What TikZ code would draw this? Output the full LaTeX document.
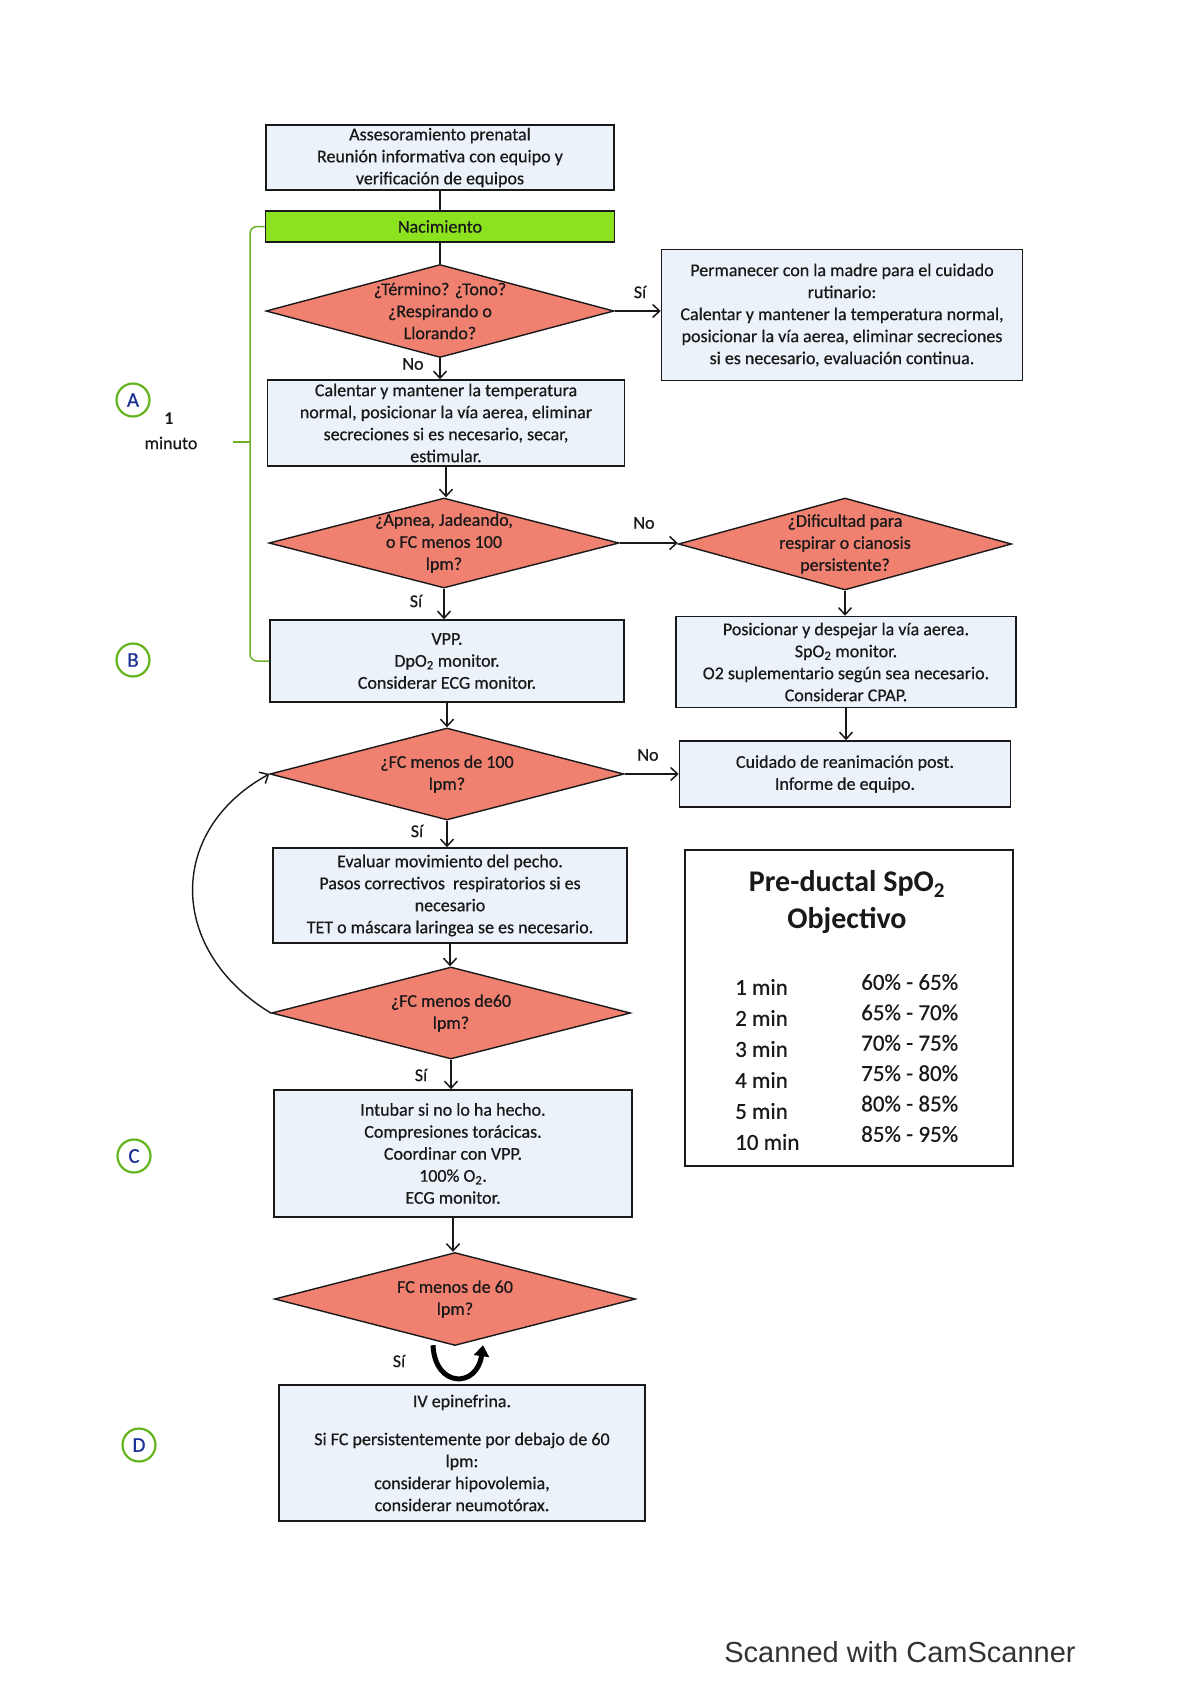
\documentclass[tikz,border=0pt]{standalone}
\usepackage{fontspec}
\setmainfont{Carlito}
\newfontfamily\bodyfont{Carlito}[FakeBold=0.6]
\newfontfamily\scanfont{Liberation Sans}
\usetikzlibrary{shapes.geometric,arrows.meta,calc}
\definecolor{boxfill}{RGB}{236,242,249}
\definecolor{diafill}{RGB}{240,128,112}
\definecolor{nacgreen}{RGB}{140,226,30}
\definecolor{brgreen}{RGB}{112,176,40}
\definecolor{circgreen}{RGB}{100,180,30}
\definecolor{letblue}{RGB}{30,50,150}
\definecolor{ink}{RGB}{25,25,25}
\begin{document}
\begin{tikzpicture}[x=1pt,y=-1pt,
 every node/.style={font=\bodyfont\fontsize{18}{22}\selectfont, text=ink},
 box/.style={draw=ink, line width=1.6pt, fill=boxfill, rectangle, inner sep=0pt, align=center},
 dia/.style={draw=ink, line width=1.4pt, fill=diafill, diamond, inner sep=0pt},
 txt/.style={align=center, inner sep=0pt},
 lbl/.style={inner sep=0pt},
 arr/.style={line width=1.5pt, draw=ink, -{Straight Barb[length=7pt,width=13pt,line width=1.5pt]}},
 ln/.style={line width=1.5pt, draw=ink},
 circ/.style={draw=circgreen, line width=2.2pt, circle, minimum size=33pt, inner sep=0pt, text=letblue, font=\bodyfont\fontsize{21}{24}\selectfont},
 bracket/.style={draw=brgreen, line width=1.5pt},
]
\fill[white] (0,0) rectangle (1200,1698);
\useasboundingbox (0,0) rectangle (1200,1698);

% main column
\node[box, minimum width=348pt, minimum height=65pt] (b1) at (440,157.5) {Assesoramiento prenatal\\Reunión informativa con equipo y\\verificación de equipos};
\node[box, fill=nacgreen, minimum width=349pt, minimum height=31pt] (nac) at (440,226.5) {Nacimiento};
\node[dia, minimum width=348pt, minimum height=93pt] (d1) at (440,311) {};
\node[txt] (d1t) at (d1) {¿Término? ¿Tono?\\¿Respirando o\\Llorando?};
\node[box, minimum width=361pt, minimum height=131pt] (r1) at (842,315) {Permanecer con la madre para el cuidado\\rutinario:\\Calentar y mantener la temperatura normal,\\posicionar la vía aerea, eliminar secreciones\\si es necesario, evaluación continua.};
\node[box, minimum width=357pt, minimum height=86pt] (b2) at (446,423) {Calentar y mantener la temperatura\\normal, posicionar la vía aerea, eliminar\\secreciones si es necesario, secar,\\estimular.};
\node[dia, minimum width=350pt, minimum height=90pt] (d2) at (444,543) {};
\node[txt] (d2t) at (d2) {¿Apnea, Jadeando,\\o FC menos 100\\lpm?};
\node[dia, minimum width=333pt, minimum height=92pt] (d3) at (845,544) {};
\node[txt] (d3t) at (d3) {¿Dificultad para\\respirar o cianosis\\persistente?};
\node[box, minimum width=340pt, minimum height=91pt] (r2) at (846,662) {Posicionar y despejar la vía aerea.\\SpO\textsubscript{2} monitor.\\O2 suplementario según sea necesario.\\Considerar CPAP.};
\node[box, minimum width=331pt, minimum height=66pt] (r3) at (845,774) {Cuidado de reanimación post.\\Informe de equipo.};
\node[box, minimum width=354pt, minimum height=82pt] (bB) at (447,661) {VPP.\\DpO\textsubscript{2} monitor.\\Considerar ECG monitor.};
\node[dia, minimum width=354pt, minimum height=92pt] (d4) at (447,774) {};
\node[txt] (d4t) at (d4) {¿FC menos de 100\\lpm?};
\node[box, minimum width=354pt, minimum height=95pt] (ev) at (450,895.5) {Evaluar movimiento del pecho.\\Pasos correctivos\ \ respiratorios si es\\necesario\\TET o máscara laringea se es necesario.};
\node[dia, minimum width=359pt, minimum height=92pt] (d5) at (451,1013) {};
\node[txt] (d5t) at (d5) {¿FC menos de60\\lpm?};
\node[box, minimum width=358pt, minimum height=127pt] (bC) at (453,1153.5) {Intubar si no lo ha hecho.\\Compresiones torácicas.\\Coordinar con VPP.\\100\% O\textsubscript{2}.\\ECG monitor.};
\node[dia, minimum width=361pt, minimum height=93pt] (d6) at (455,1299) {};
\node[txt] (d6t) at (d6) {FC menos de 60\\lpm?};
\node[box, minimum width=366pt, minimum height=136pt] (bD) at (462,1453) {IV epinefrina.\\[16pt]Si FC persistentemente por debajo de 60\\lpm:\\considerar hipovolemia,\\considerar neumotórax.};

% connectors
\draw[ln] (b1.south) -- (b1.south |- nac.north);
\draw[ln] (nac.south) -- (nac.south |- d1.north);
\draw[arr] (d1.east) -- (d1.east -| r1.west);
\draw[arr] (d1.south) -- (d1.south |- b2.north);
\draw[arr] (b2.south) -- (b2.south |- d2.north);
\draw[arr] (d2.east) -- (d2.east -| d3.west);
\draw[arr] (d3.south) -- (d3.south |- r2.north);
\draw[arr] (r2.south) -- (r2.south |- r3.north);
\draw[arr] (d2.south) -- (d2.south |- bB.north);
\draw[arr] (bB.south) -- (bB.south |- d4.north);
\draw[arr] (d4.east) -- (d4.east -| r3.west);
\draw[arr] (d4.south) -- (d4.south |- ev.north);
\draw[arr] (ev.south) -- (ev.south |- d5.north);
\draw[arr] (d5.south) -- (d5.south |- bC.north);
\draw[arr] (bC.south) -- (bC.south |- d6.north);
\draw[arr, line width=1.4pt] (d5.west) .. controls (167,950) and (167,830) .. (d4.west);
\draw[line width=5pt, draw=black, -{Triangle[length=11pt,width=15pt]}] ($(d6.south)+(-22,-1)$) .. controls ($(d6.south)+(-20,42)$) and ($(d6.south)+(22,42)$) .. ($(d6.south)+(28,-1)$);

% labels
\node[lbl] (l1) at (640,292) {Sí};
\node[lbl] (l2) at (413,364) {No};
\node[lbl] (l3) at (644,523) {No};
\node[lbl] (l4) at (416,601) {Sí};
\node[lbl] (l5) at (648,755) {No};
\node[lbl] (l6) at (417,831) {Sí};
\node[lbl] (l7) at (421,1075) {Sí};
\node[lbl] (l8) at (399,1361) {Sí};

% green bracket
\coordinate (brtop) at (250,226.5);
\coordinate (brbot) at (250,661);
\coordinate (brmid) at (250,442);
\coordinate (brtick) at (233,442);
\draw[bracket, rounded corners=7pt] (nac.west) -- (brtop) -- (brbot) -- (bB.west);
\draw[bracket] (brtick) -- (brmid);

% circles and side text
\node[circ] (cA) at (133,400) {A};
\node[circ] (cB) at (133,660) {B};
\node[circ] (cC) at (134,1156) {C};
\node[circ] (cD) at (139,1445) {D};
\node[lbl, font=\bfseries\fontsize{18}{22}\selectfont] (one) at (169,419) {1};
\node[lbl] (minu) at (171,443) {minuto};

% SpO2 table
\node[draw=ink, line width=1.6pt, fill=white, minimum width=328pt, minimum height=316pt, inner sep=0pt] (tab) at (849,1008) {};
\node[lbl, font=\bfseries\fontsize{30}{36}\selectfont] (tt1) at (847,884) {Pre-ductal SpO\textsubscript{2}};
\node[lbl, font=\bfseries\fontsize{30}{36}\selectfont] (tt2) at (847,920) {Objectivo};
\foreach \m/\v [count=\i from 0] in {1 min/60\% - 65\%, 2 min/65\% - 70\%, 3 min/70\% - 75\%, 4 min/75\% - 80\%, 5 min/80\% - 85\%, 10 min/85\% - 95\%}{
  \node[lbl, anchor=west, font=\bodyfont\fontsize{23}{28}\selectfont] (tl\i) at ({735},{987+31*\i}) {\m};
  \node[lbl, anchor=west, font=\bodyfont\fontsize{23}{28}\selectfont] (tr\i) at ({861},{982+30.4*\i}) {\v};
}

% footer
\node[lbl, font=\scanfont\fontsize{29}{34}\selectfont, text=black!80] (cs) at (900,1652) {Scanned with CamScanner};
\end{tikzpicture}
\end{document}
